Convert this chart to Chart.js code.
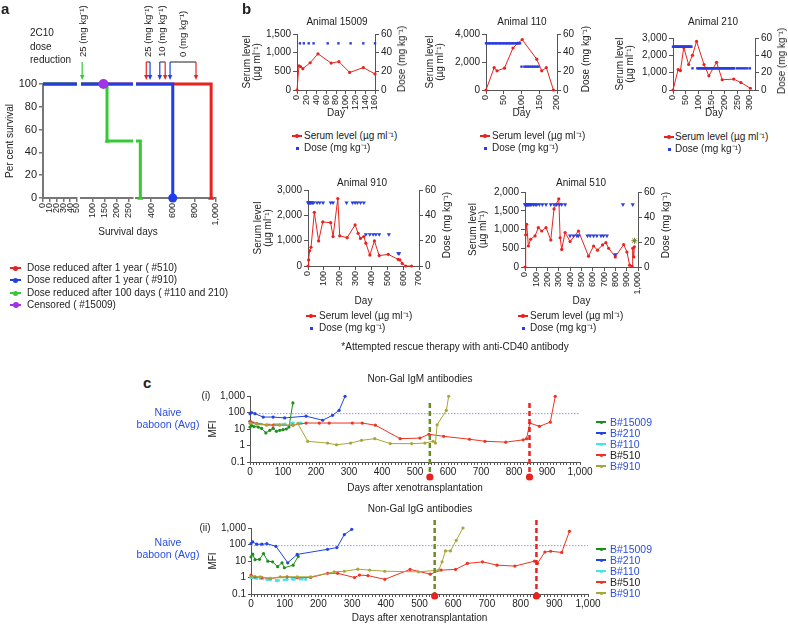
<!DOCTYPE html>
<html><head><meta charset="utf-8"><title>2C10 survival, serum levels and non-Gal antibodies</title>
<script src="https://cdn.jsdelivr.net/npm/chart.js@4.4.1/dist/chart.umd.min.js"></script>
<style>
html,body{margin:0;padding:0;background:#fff}
body{position:relative;width:788px;height:624px;overflow:hidden;font-family:"Liberation Sans",Arial,Helvetica,sans-serif;color:#222;font-size:10px}
canvas{position:absolute}
.tx{position:absolute;white-space:nowrap;line-height:12px}
.mk{position:absolute}
</style></head><body>
<script>
// ---------------- DATA ----------------
// Panel a: survival (Kaplan-Meier steps)
const redDays=[0,955,955], redPct=[100,100,0];           // #510
const blueDays=[0,600,600], bluePct=[100,100,0];         // #910
const greenDays=[0,160,160,300,300], greenPct=[100,100,50,50,0]; // #110 and 210
const censDays=[145], censPct=[100];                    // #15009 censored
const greenArrowDays=[55], greenArrowLabels=['25 (mg kg⁻¹)'];
const redArrowDays=[355,530,815], blueArrowDays=[390,480,575];
const pairLabels=['25 (mg kg⁻¹)','10 (mg kg⁻¹)','0 (mg kg⁻¹)'];
const seg1Ticks=[0,10,20,30,40,50], seg2Ticks=[100,150,200,250], seg3Ticks=[400,600,800,1000];
const survTicks=[0,20,40,60,80,100];

// Panel b: serum level and dose
const s15009Days=[0,4,7,12,27,43,70,86,108,136,160];
const s15009=[0,650,630,570,730,970,720,760,470,600,430];
const d15009Days=[6,14,24,34,63,85,110,136,160];
const d15009=[50,50,50,50,50,50,50,50,50];

const s110Days=[0,23,31,52,76,90,102,143,157,170,190];
const s110=[0,1600,1370,1560,3000,3350,3600,2200,1370,1600,0];
const d110Days=[0,4,8,12,16,20,24,28,32,36,40,44,48,52,56,60,64,68,72,76,80,84,88,92,96,100,108,113,118,123,128,133,138,143,148];
const d110=[50,50,50,50,50,50,50,50,50,50,50,50,50,50,50,50,50,50,50,50,50,50,50,50,50,25,25,25,25,25,25,25,25,25,25];

const s210Days=[0,20,29,42,61,76,92,121,140,170,192,237,265,302];
const s210=[0,1180,1120,2450,1470,2000,2800,1470,820,1600,590,630,430,100];
const d210Days=[0,3,6,9,12,15,18,21,24,27,30,33,36,39,42,45,48,51,54,57,60,63,66,69,72,
  76,95,99,103,107,111,115,119,123,127,131,135,139,143,147,151,155,159,163,167,171,175,179,183,187,191,195,199,203,207,211,215,219,223,227,231,235,239,250,258,266,274,282,290,300];
const d210=[50,50,50,50,50,50,50,50,50,50,50,50,50,50,50,50,50,50,50,50,50,50,50,50,50,
  25,25,25,25,25,25,25,25,25,25,25,25,25,25,25,25,25,25,25,25,25,25,25,25,25,25,25,25,25,25,25,25,25,25,25,25,25,25,25,25,25,25,25,25,25];

const s910Days=[0,4,10,19,40,67,93,143,158,188,200,247,297,316,331,352,365,390,419,449,506,569,580,594,616,653];
const s910=[0,240,600,740,2120,990,1740,1710,1160,2660,1190,1120,1620,1290,1090,1160,900,430,990,410,460,260,240,100,0,0];
const d910Days=[0,4,8,12,16,20,28,36,57,74,95,143,158,243,281,297,312,331,352,365,390,411,428,449,510,569,575];
const d910=[50,50,50,50,50,50,50,50,50,50,50,50,50,50,50,50,50,50,50,25,25,25,25,25,25,10,10];

const s510Days=[0,6,15,30,50,89,118,148,186,228,257,299,311,325,355,399,473,562,607,642,686,716,740,799,873,902,926,947,953,962,968];
const s510=[0,860,1140,560,740,830,1050,960,1050,720,1550,1820,780,470,920,680,960,290,560,450,590,650,500,270,600,400,50,20,500,270,540];
const d510Days=[0,5,10,15,20,25,30,40,50,60,75,90,104,127,154,186,228,257,281,305,325,355,399,429,459,473,553,577,607,636,672,695,725,799,867,953];
const d510=[50,50,50,50,50,50,50,50,50,50,50,50,50,50,50,50,50,50,50,50,50,50,25,25,25,25,25,25,25,25,25,25,25,10,50,50];
const rescue510Day=[968], rescue510Level=[700];

// Panel c: non-Gal antibodies (MFI)
const naiveLevel=85;
const eventDays=[545,847];
const cTickLabels=[0,100,200,300,400,500,600,700,800,900,1000];
const mfiTicks=[0.1,1,10,100,1000];

const igm15009Days=[0,5,12,25,35,48,60,70,80,90,100,110,118,130];
const igm15009=[13,16,14,13,11,5.8,8.3,11,7.2,8.3,9.1,10,13,380];
const igm210Days=[0,5,15,40,70,105,170,220,250,270,288];
const igm210=[85,100,85,53,53,47,60,34,67,135,950];
const igm110Days=[0,20,50,90,130,155];
const igm110=[29,21,18,19,23,23];
const igm510Days=[0,20,70,130,170,210,240,310,340,380,455,515,542,587,665,712,775,828,838,848,877,910,925];
const igm510=[29,21,17,17,23,23,23,23,23,17,2.6,2.8,4.8,3.6,2.4,1.8,1.6,2.2,2.6,23,14.5,26,950];
const igm910Days=[0,20,50,90,130,145,175,235,262,305,338,378,425,490,530,555,562,567,595,602];
const igm910=[22,20,17,17,17,21,1.8,1.4,1.1,1.4,2.05,2.6,1.3,1.3,1.4,1.8,1.4,18,135,950];

const igg15009Days=[0,5,12,25,37,50,64,79,92,99,125,140];
const igg15009=[18,26,12,12.6,28,9.8,8.9,4.5,7.8,3.9,5.6,19];
const igg210Days=[0,5,17,32,47,74,109,137,227,255,277,299];
const igg210=[112,145,104,104,112,78,7.8,25,51,65,400,830];
const igg110Days=[0,17,47,77,107,127,162];
const igg110=[1.0,0.88,0.77,0.64,0.77,0.8,0.77];
const igg510Days=[0,12,32,57,107,137,177,227,257,307,322,347,397,472,532,564,607,642,687,730,783,841,850,872,889,922,945];
const igg510=[1.4,1.1,1.0,0.88,1.1,0.97,1.0,1.8,1.8,1.0,1.4,1.3,0.77,3.1,1.6,2.8,3.1,7.1,8.9,5.6,4.9,9.8,7.1,35,39,33,630];
const igg910Days=[0,27,57,87,137,177,247,277,317,352,397,497,557,567,577,592,609,629];
const igg910=[1.12,1.1,0.88,1.1,1.1,1.1,2.2,2.4,3.2,2.8,2.4,2.2,2.8,8.9,41,41,180,1000];

// ---------------- STYLE ----------------
const RED='#e8231f', BLUE_A='#1f3ee8', GREEN_A='#35c935', PURPLE='#a033e6', DOSE_BLUE='#2a3ddf';
const C_GREEN='#1b8f1b', C_BLUE='#2244e0', C_CYAN='#44e4e8', C_RED='#ee3322', C_OLIVE='#a7a737', EV_OLIVE='#6a8a2a';
const AX='#555', LBLUE='#2a4ee0';
const FONT='"Liberation Sans", Arial, Helvetica, sans-serif';
Chart.defaults.font.family=FONT; Chart.defaults.font.size=10; Chart.defaults.color='#222';

const zip=(xs,ys)=>xs.map((x,i)=>({x,y:ys[i]}));
const ticksAt=arr=>s=>{s.ticks=arr.map(v=>({value:v}));};
const fmt=v=>Number(v).toLocaleString('en-US');

function makeChart(area,box,build){
  const [L,T,R,B]=area,[bl,bt,br,bb]=box;
  const c=document.createElement('canvas');
  const w=br-bl,h=bb-bt; c.width=w; c.height=h;
  Object.assign(c.style,{left:bl+'px',top:bt+'px',width:w+'px',height:h+'px'});
  document.body.appendChild(c);
  const m={left:L-bl,right:br-R,top:T-bt,bottom:bb-B};
  const cfg=build(m);
  cfg.options=Object.assign({responsive:false,maintainAspectRatio:false,animation:false,devicePixelRatio:1,events:[]},cfg.options);
  cfg.options.plugins=Object.assign({legend:{display:false},tooltip:{enabled:false}},cfg.options.plugins||{});
  return new Chart(c,cfg);
}

// ---------------- TEXT HELPERS ----------------
function T(s,x,y,mode,st){
  const d=document.createElement('div'); d.className='tx'; d.textContent=s;
  d.style.left=x+'px'; d.style.top=y+'px';
  d.style.transform= mode==='c'?'translate(-50%,-50%)': mode==='r'?'translate(-50%,-50%) rotate(-90deg)':'translate(0,-50%)';
  if(st) Object.assign(d.style,st);
  document.body.appendChild(d); return d;
}
function box(x,y,w,h,col,rad){
  const d=document.createElement('div'); d.className='mk';
  Object.assign(d.style,{left:x+'px',top:y+'px',width:w+'px',height:h+'px',background:col,borderRadius:rad||'0'});
  document.body.appendChild(d);
}
function lineMk(x1,x2,y,col,lw,dot){ box(x1,y-lw/2,x2-x1,lw,col); if(dot){const cx=(x1+x2)/2; box(cx-dot/2,y-dot/2,dot,dot,col,'50%');} }
const LETTER={fontWeight:'bold',fontSize:'15px'};

// ---------------- PANEL A ----------------
const CLIP={left:0,right:0,top:8,bottom:8};
function survDatasets(withCens){
  const ds=[
    {data:zip(blueDays,bluePct),borderColor:BLUE_A,backgroundColor:BLUE_A,borderWidth:3,showLine:true,pointRadius:[0,0,4.5],pointBorderWidth:0,order:1,clip:CLIP},
    {data:zip(greenDays,greenPct),borderColor:GREEN_A,backgroundColor:GREEN_A,borderWidth:3,showLine:true,pointStyle:'triangle',pointRadius:[0,0,3,0,3.5],pointBorderWidth:0,order:2,clip:CLIP},
    {data:zip(redDays,redPct),borderColor:RED,backgroundColor:RED,borderWidth:3,showLine:true,pointStyle:'triangle',pointRadius:[0,0,3.5],pointBorderWidth:0,order:3,clip:CLIP}
  ];
  if(withCens) ds.unshift({data:zip(censDays,censPct),borderColor:PURPLE,backgroundColor:PURPLE,pointRadius:5,pointBorderWidth:0,showLine:false,order:0,clip:CLIP});
  return ds;
}
const arrowPlugin={id:'doseArrows',afterDraw(chart,args,o){
  const ctx=chart.ctx,xs=chart.scales.x,y0=62,y1=80;
  const arrow=(x,col)=>{ctx.strokeStyle=col;ctx.fillStyle=col;ctx.lineWidth=1.2;ctx.beginPath();ctx.moveTo(x,y0);ctx.lineTo(x,y1-4);ctx.stroke();
    ctx.beginPath();ctx.moveTo(x-2.2,y1-5);ctx.lineTo(x+2.2,y1-5);ctx.lineTo(x,y1);ctx.closePath();ctx.fill();};
  const label=(x,s)=>{ctx.save();ctx.translate(x,57);ctx.rotate(-Math.PI/2);ctx.font='9.5px '+FONT;ctx.fillStyle='#222';ctx.textAlign='left';ctx.textBaseline='middle';ctx.fillText(s,0,0);ctx.restore();};
  ctx.save();
  (o.singles||[]).forEach(a=>{const x=xs.getPixelForValue(a.day);arrow(x,a.color);label(x+1,a.label);});
  (o.pairs||[]).forEach(p=>{const xa=xs.getPixelForValue(p.a.day),xb=xs.getPixelForValue(p.b.day);
    ctx.strokeStyle='#444';ctx.lineWidth=1.2;ctx.beginPath();ctx.moveTo(xa,y0);ctx.lineTo(xb,y0);ctx.stroke();
    arrow(xa,p.a.color);arrow(xb,p.b.color);label((xa+xb)/2,p.label);});
  ctx.restore();
}};
function segChart(area,bx,xmin,xmax,xt,showY,withCens,arrows){
  return makeChart(area,bx,m=>({
    type:'scatter',
    data:{datasets:survDatasets(withCens)},
    plugins:arrows?[arrowPlugin]:[],
    options:{
      layout:{padding:{left:0,right:m.right,top:m.top,bottom:0}},
      plugins:arrows?{doseArrows:arrows}:{},
      scales:{
        x:{type:'linear',min:xmin,max:xmax,afterBuildTicks:ticksAt(xt),afterFit:s=>{s.height=m.bottom;},
          border:{display:true,color:'#777',width:2},grid:{drawOnChartArea:false,color:'#777',tickLength:4,lineWidth:1.5},
          ticks:{minRotation:90,maxRotation:90,autoSkip:false,padding:1,font:{size:9},callback:fmt}},
        y:{display:true,min:0,max:100,afterBuildTicks:ticksAt(survTicks),afterFit:s=>{s.width=m.left;},
          border:{display:showY,color:'#777',width:2},grid:{display:showY,drawOnChartArea:false,color:'#777',tickLength:4,lineWidth:1.5},
          ticks:{display:showY,padding:2,font:{size:11},callback:fmt},
          title:{display:showY,text:'Per cent survival',padding:0,font:{size:10}}}
      }
    }
  }));
}
segChart([43,84,77,198],[4,0,93,228],0,50,seg1Ticks,true,false,null);
segChart([81,84,133,198],[66,0,149,228],50,270,seg2Ticks,false,true,
  {singles:greenArrowDays.map((d,i)=>({day:d,color:GREEN_A,label:greenArrowLabels[i]}))});
segChart([136,84,216,198],[121,0,232,228],260,1000,seg3Ticks,false,false,
  {pairs:pairLabels.map((lab,i)=>({a:{day:redArrowDays[i],color:RED},b:{day:blueArrowDays[i],color:BLUE_A},label:lab}))});

T('a',1,9,'l',LETTER);
T('2C10',30,33,'l'); T('dose',30,47,'l'); T('reduction',30,60,'l');
T('Survival days',128,232,'c');
[[RED,'Dose reduced after 1 year ( #510)',268],[BLUE_A,'Dose reduced after 1 year ( #910)',280],
 [GREEN_A,'Dose reduced after 100 days ( #110 and 210)',293],[PURPLE,'Censored ( #15009)',305]].forEach(([c,s,y],i)=>{
  lineMk(10,21,y,c,2.5,i===3?6:5); T(s,27,y,'l');
});

// ---------------- PANEL B ----------------
const doseTicks=[0,20,40,60];
function bChart(area,bx,o){
  return makeChart(area,bx,m=>({
    type:'scatter',
    data:{datasets:[
      {data:zip(o.sd,o.sv),yAxisID:'y',showLine:true,borderColor:RED,backgroundColor:RED,borderWidth:1,pointRadius:1.6,pointBorderWidth:0,order:1,clip:3},
      {data:zip(o.dd,o.dv),yAxisID:'y1',showLine:false,backgroundColor:DOSE_BLUE,borderColor:DOSE_BLUE,pointStyle:o.tri?'triangle':'rect',pointRotation:o.tri?180:0,pointRadius:o.tri?2.4:1.7,pointBorderWidth:0,order:0,clip:4}
    ].concat(o.extra||[])},
    options:{
      layout:{padding:{left:0,right:0,top:m.top,bottom:0}},
      scales:{
        x:{type:'linear',min:0,max:o.xMax,afterBuildTicks:ticksAt(o.xt),afterFit:s=>{s.height=m.bottom;},
          border:{color:AX},grid:{drawOnChartArea:false,color:AX,tickLength:4},
          ticks:{minRotation:90,maxRotation:90,autoSkip:false,padding:1,font:{size:9},callback:fmt},
          title:{display:true,text:'Day',padding:0,font:{size:10}}},
        y:{position:'left',min:0,max:o.yMax,afterBuildTicks:ticksAt(o.yt),afterFit:s=>{s.width=m.left;},
          border:{color:AX},grid:{drawOnChartArea:false,color:AX,tickLength:4},ticks:{padding:2,callback:fmt},
          title:{display:true,text:['Serum level','(µg ml⁻¹)'],padding:0,font:{size:10,lineHeight:1.03}}},
        y1:{position:'right',min:0,max:60,afterBuildTicks:ticksAt(doseTicks),afterFit:s=>{s.width=m.right;},
          border:{color:AX},grid:{drawOnChartArea:false,color:AX,tickLength:4},ticks:{padding:2,callback:fmt}}
      }
    }
  }));
}
bChart([297,34,375,90],[242,20,408,119],{sd:s15009Days,sv:s15009,dd:d15009Days,dv:d15009,xMax:160,xt:[0,20,40,60,80,100,120,140,160],yMax:1500,yt:[0,500,1000,1500]});
bChart([486,34,557,90],[425,20,592,119],{sd:s110Days,sv:s110,dd:d110Days,dv:d110,xMax:200,xt:[0,50,100,150,200],yMax:4000,yt:[0,1000,2000,3000,4000]});
bChart([673,38,755,90],[615,24,789,119],{sd:s210Days,sv:s210,dd:d210Days,dv:d210,xMax:320,xt:[0,50,100,150,200,250,300],yMax:3000,yt:[0,1000,2000,3000]});
bChart([308,190,419,266],[253,176,454,307],{sd:s910Days,sv:s910,dd:d910Days,dv:d910,tri:true,xMax:700,xt:[0,100,200,300,400,500,600,700],yMax:3000,yt:[0,1000,2000,3000]});
bChart([525,192,638,267],[468,178,672,307],{sd:s510Days,sv:s510,dd:d510Days,dv:d510,tri:true,xMax:1000,xt:[0,100,200,300,400,500,600,700,800,900,1000],yMax:2000,yt:[0,500,1000,1500,2000],
  extra:[{data:zip(rescue510Day,rescue510Level),yAxisID:'y',showLine:false,pointStyle:'star',pointRadius:3,borderColor:'#6a7a2a',borderWidth:1,clip:4}]});

T('b',242,9,'l',LETTER);
T('Animal 15009',337,22,'c'); T('Animal 110',522,22,'c'); T('Animal 210',713,22,'c');
T('Animal 910',362,183,'c'); T('Animal 510',581,183,'c');
[[402,59],[585.5,59],[782,61],[447,225],[666,225]].forEach(([x,y])=>T('Dose (mg kg⁻¹)',x,y,'r'));
[[297,304,136,148],[485,492,136,148],[669,675,137,149],[311,319,316,328],[523,530,316,328]].forEach(([mx,tx,y1,y2])=>{
  lineMk(mx-5,mx+5,y1,RED,1.2,3.5); T('Serum level (µg ml⁻¹)',tx,y1,'l');
  box(mx-1,y2-1,2.5,2.5,DOSE_BLUE); T('Dose (mg kg⁻¹)',tx,y2,'l');
});
T('*Attempted rescue therapy with anti-CD40 antibody',455,347,'c');

// ---------------- PANEL C ----------------
const cMinor=[]; for(let v=0; v<=1000; v+=10) cMinor.push(v);
const eventPlugin={id:'eventLines',afterDraw(chart,args,o){
  const ctx=chart.ctx,ca=chart.chartArea,xs=chart.scales.x;
  o.days.forEach((d,i)=>{const x=xs.getPixelForValue(d);
    ctx.save();ctx.strokeStyle=o.colors[i];ctx.lineWidth=2.5;ctx.setLineDash([5,3]);
    ctx.beginPath();ctx.moveTo(x,ca.top+o.top);ctx.lineTo(x,ca.bottom+o.bottom);ctx.stroke();ctx.setLineDash([]);
    ctx.fillStyle=RED;ctx.beginPath();ctx.arc(x,ca.bottom+o.bottom,3.6,0,Math.PI*2);ctx.fill();ctx.restore();});
}};
const logLabels={0.1:'0.1',1:'1',10:'10',100:'100',1000:'1,000'};
function cChart(area,bx,series,ev){
  return makeChart(area,bx,m=>({
    type:'scatter',
    data:{datasets:[
      {data:[{x:0,y:naiveLevel},{x:1000,y:naiveLevel}],showLine:true,borderColor:'#8d9cf0',borderWidth:1,borderDash:[1.5,1.5],pointRadius:0,order:9}
    ].concat(series.map((s,i)=>({data:zip(s.d,s.v),showLine:true,borderColor:s.c,backgroundColor:s.c,borderWidth:s.w||1,borderDash:s.dash||[],pointRadius:1.6,pointBorderWidth:0,clip:4,order:i})))},
    plugins:[eventPlugin],
    options:{
      layout:{padding:{left:0,right:m.right,top:m.top,bottom:0}},
      plugins:{eventLines:ev},
      scales:{
        x:{type:'linear',min:0,max:1000,afterBuildTicks:ticksAt(cMinor),afterFit:s=>{s.height=m.bottom;},
          border:{color:AX},grid:{drawOnChartArea:false,color:AX,tickLength:3},
          ticks:{autoSkip:false,maxRotation:0,minRotation:0,padding:1,callback:v=>cTickLabels.includes(v)?fmt(v):''},
          title:{display:true,text:'Days after xenotransplantation',padding:0,font:{size:10}}},
        y:{type:'logarithmic',min:0.1,max:1000,afterBuildTicks:ticksAt(mfiTicks),afterFit:s=>{s.width=m.left;},
          border:{color:AX},grid:{drawOnChartArea:false,color:AX,tickLength:3},
          ticks:{padding:2,callback:v=>logLabels[v]||''},
          title:{display:true,text:'MFI',padding:0,font:{size:10}}}
      }
    }
  }));
}
cChart([250,396,580,462],[207,380,600,494],[
  {d:igm910Days,v:igm910,c:C_OLIVE},{d:igm510Days,v:igm510,c:C_RED},{d:igm110Days,v:igm110,c:C_CYAN,w:2.5,dash:[5,3]},
  {d:igm210Days,v:igm210,c:C_BLUE},{d:igm15009Days,v:igm15009,c:C_GREEN}],
  {days:eventDays,colors:[EV_OLIVE,RED],top:7,bottom:15});
cChart([251,528,588,594],[207,510,608,624],[
  {d:igg910Days,v:igg910,c:C_OLIVE},{d:igg510Days,v:igg510,c:C_RED},{d:igg110Days,v:igg110,c:C_CYAN,w:2.5,dash:[5,3]},
  {d:igg210Days,v:igg210,c:C_BLUE},{d:igg15009Days,v:igg15009,c:C_GREEN}],
  {days:eventDays,colors:[EV_OLIVE,RED],top:-8,bottom:2});

T('c',143,383,'l',LETTER);
T('(i)',206,396,'c'); T('Non-Gal IgM antibodies',420,379,'c');
T('Naive',168,412,'c',{color:LBLUE,fontSize:'10.5px'}); T('baboon (Avg)',168,424,'c',{color:LBLUE,fontSize:'10.5px'});
T('(ii)',205,528,'c'); T('Non-Gal IgG antibodies',420,509,'c');
T('Naive',168,542,'c',{color:LBLUE,fontSize:'10.5px'}); T('baboon (Avg)',168,554,'c',{color:LBLUE,fontSize:'10.5px'});
const cLegend=[['B#15009',C_GREEN,LBLUE],['B#210',C_BLUE,LBLUE],['B#110',C_CYAN,LBLUE],['B#510',C_RED,'#222'],['B#910',C_OLIVE,LBLUE]];
[[422,433,444,455,466],[549,560,571,582,593]].forEach(rows=>{
  cLegend.forEach(([s,c,tc],i)=>{lineMk(596,606,rows[i],c,1.2,3); T(s,610,rows[i],'l',{color:tc,fontSize:'10.5px'});});
});
</script>
</body></html>
